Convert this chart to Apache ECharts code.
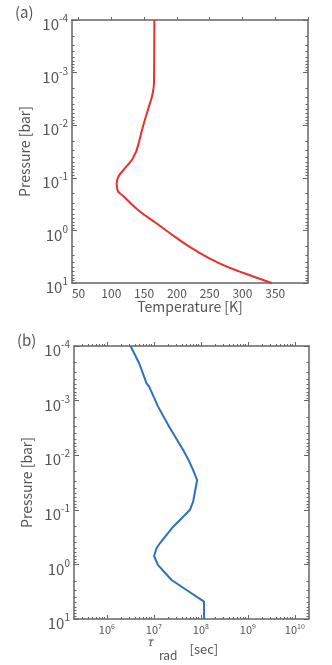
<!DOCTYPE html>
<html><head><meta charset="utf-8">
<script src="https://cdn.jsdelivr.net/npm/echarts@6/dist/echarts.min.js"></script>
<style>html,body{margin:0;padding:0;background:#fff}#c{width:332px;height:665px}</style>
</head><body><div id="c"></div>
<script>
// Panel (a): temperature profile
const pressureA = [1e-4, 3e-4, 1.49e-3, 2.67e-3, 4.15e-3, 1e-2, 2.98e-2, 3.72e-2, 4.62e-2, 7.16e-2, 9.59e-2, 0.128, 0.167, 0.231, 0.413, 0.74, 1.33, 2.38, 4.27, 6.61, 10];
const temperatureA = [165.6, 165.5, 165.1, 162.5, 158, 148.8, 138.7, 135, 131.1, 118.3, 110.7, 108.2, 109.1, 119.8, 141.2, 169.3, 197.2, 227.7, 265.8, 304, 344.7];
// Panel (b): radiative timescale profile
const pressureB = [1e-4, 2.07e-4, 4.82e-4, 5.56e-4, 1.29e-3, 3.01e-3, 8.04e-3, 1.22e-2, 1.87e-2, 2.85e-2, 7.11e-2, 0.101, 0.204, 0.411, 0.507, 0.701, 1.03, 1.93, 2.94, 4.82, 10];
const tauB = [3.19e6, 4.87e6, 7.0e6, 7.94e6, 1.23e7, 2.12e7, 4.2e7, 5.47e7, 6.85e7, 8.34e7, 6.85e7, 5.83e7, 2.58e7, 1.34e7, 1.14e7, 1.01e7, 1.23e7, 2.38e7, 4.97e7, 1.17e8, 1.17e8];
// Tick labels
const tempTicks = [50, 100, 150, 200, 250, 300, 350];
const tempTickMarks = [50, 100, 150, 200, 250, 300, 350, 400];
const pressureTicks = [1e-4, 1e-3, 1e-2, 1e-1, 1, 10];
const tauTicks = [1e6, 1e7, 1e8, 1e9, 1e10];

function minorOf(lo, hi) {
  const out = [];
  for (let n = -6; n <= 12; n++) for (let k = 2; k <= 9; k++) {
    const v = k * Math.pow(10, n);
    if (v > lo && v < hi) out.push(v);
  }
  return out;
}
const pressureMinor = minorOf(1e-4, 10);
const tauMinor = minorOf(2e5, 2e10);

const FONT = '"Noto Sans CJK JP", "Noto Sans", sans-serif';
const TXT = '#555';
const AX = '#666';
const line = { show: true, onZero: false, lineStyle: { color: AX, width: 1.5 } };
const noLine = { show: false, onZero: false };
function supFmt(v) {
  const e = Math.round(Math.log10(v));
  return '{b|10}{s|' + e + '}';
}
const yRich = {
  b: { fontSize: 15, lineHeight: 22, color: TXT, fontFamily: FONT },
  s: { fontSize: 10, lineHeight: 12, verticalAlign: 'top', color: TXT, fontFamily: FONT }
};
const xRich = {
  b: { fontSize: 11, lineHeight: 14, color: TXT, fontFamily: FONT },
  s: { fontSize: 7, lineHeight: 8, verticalAlign: 'top', color: TXT, fontFamily: FONT }
};
function tick(vals, inside, len) {
  return { show: true, customValues: vals, inside: inside, length: len, lineStyle: { color: AX, width: 1 } };
}

const tA = { type: 'value', min: 40, max: 400 };
const pA = { type: 'log', logBase: 10, min: 1e-4, max: 10, inverse: true };
const tB = { type: 'log', logBase: 10, min: 2e5, max: 2e10 };

const xAxis = [
  Object.assign({}, tA, { gridIndex: 0, position: 'bottom', axisLine: line, splitLine: { show: false },
    axisTick: { show: false },
    axisLabel: { customValues: tempTicks, color: TXT, fontSize: 12, fontFamily: FONT, margin: 4 },
    name: 'Temperature [K]', nameLocation: 'middle', nameGap: 16,
    nameTextStyle: { fontSize: 14, color: TXT, fontFamily: FONT } }),
  Object.assign({}, tA, { gridIndex: 0, position: 'top', axisLine: line, splitLine: { show: false },
    axisTick: tick(tempTickMarks, false, 3), axisLabel: { show: false } }),
  Object.assign({}, tB, { gridIndex: 1, position: 'bottom', axisLine: line, splitLine: { show: false },
    axisTick: tick(tauTicks, true, 4),
    axisLabel: { customValues: tauTicks, formatter: supFmt, rich: xRich, margin: 3.5 },
    name: '{t|τ}{r|rad}{s|[sec]}', nameLocation: 'middle', nameGap: 9,
    nameTextStyle: { padding: [0, 18, 0, 0], rich: {
      t: { fontSize: 12, lineHeight: 10, verticalAlign: 'top', fontStyle: 'italic', color: TXT, fontFamily: FONT },
      r: { fontSize: 12, lineHeight: 10, verticalAlign: 'bottom', color: TXT, fontFamily: FONT, padding: [0, 0, 0, 6] },
      s: { fontSize: 13, lineHeight: 26, color: TXT, fontFamily: FONT, padding: [0, 0, 0, 12] } } } }),
  Object.assign({}, tB, { gridIndex: 1, position: 'bottom', axisLine: noLine, splitLine: { show: false },
    axisTick: tick(tauMinor, true, 2), axisLabel: { show: false } }),
  Object.assign({}, tB, { gridIndex: 1, position: 'top', axisLine: line, splitLine: { show: false },
    axisTick: tick(tauTicks, false, 4), axisLabel: { show: false } }),
  Object.assign({}, tB, { gridIndex: 1, position: 'top', axisLine: noLine, splitLine: { show: false },
    axisTick: tick(tauMinor, false, 2), axisLabel: { show: false } })
];

function yAxes(g, gap) {
  return [
    Object.assign({}, pA, { gridIndex: g, position: 'left', axisLine: line, splitLine: { show: false },
      axisTick: tick(pressureTicks, true, 5),
      axisLabel: { customValues: pressureTicks, formatter: supFmt, rich: yRich, margin: 4, padding: [9, 0, 0, 0] },
      name: 'Pressure [bar]', nameLocation: 'middle', nameGap: gap,
      nameTextStyle: { fontSize: 14, color: TXT, fontFamily: FONT } }),
    Object.assign({}, pA, { gridIndex: g, position: 'left', axisLine: noLine, splitLine: { show: false },
      axisTick: tick(pressureMinor, true, 2.5), axisLabel: { show: false } }),
    Object.assign({}, pA, { gridIndex: g, position: 'right', axisLine: line, splitLine: { show: false },
      axisTick: tick(pressureTicks, true, 5), axisLabel: { show: false } }),
    Object.assign({}, pA, { gridIndex: g, position: 'right', axisLine: noLine, splitLine: { show: false },
      axisTick: tick(pressureMinor, true, 2.5), axisLabel: { show: false } })
  ];
}
const yAxis = yAxes(0, 32).concat(yAxes(1, 33));

const chart = echarts.init(document.getElementById('c'), null, { renderer: 'canvas' });
chart.setOption({
  animation: false,
  backgroundColor: '#fff',
  grid: [
    { left: 72, top: 20, width: 236, height: 263 },
    { left: 74, top: 346, width: 235, height: 273 }
  ],
  xAxis: xAxis,
  yAxis: yAxis,
  graphic: [
    { type: 'text', left: 15, top: 5, style: { text: '(a)', fontSize: 15, fill: TXT, fontFamily: FONT } },
    { type: 'text', left: 17, top: 333, style: { text: '(b)', fontSize: 15, fill: TXT, fontFamily: FONT } }
  ],
  series: [
    { type: 'line', xAxisIndex: 0, yAxisIndex: 0, showSymbol: false, smooth: 0.5,
      data: temperatureA.map((t, i) => [t, pressureA[i]]),
      lineStyle: { color: '#e8302f', width: 2 } },
    { type: 'line', xAxisIndex: 2, yAxisIndex: 4, showSymbol: false,
      data: tauB.map((t, i) => [t, pressureB[i]]),
      lineStyle: { color: '#2d72b8', width: 2 } }
  ]
});
</script></body></html>
